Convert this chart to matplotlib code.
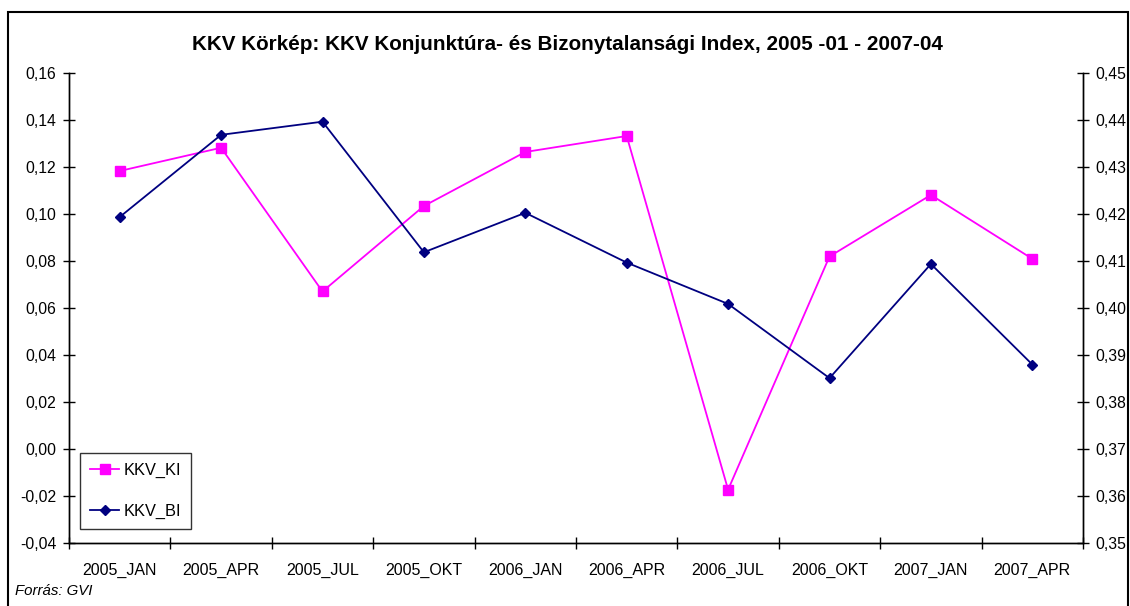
import matplotlib
matplotlib.use("Agg")
import matplotlib.pyplot as plt
from matplotlib.ticker import FuncFormatter, FixedLocator, MultipleLocator
from matplotlib.patches import Rectangle

categories = ["2005_JAN", "2005_APR", "2005_JUL", "2005_OKT", "2006_JAN",
              "2006_APR", "2006_JUL", "2006_OKT", "2007_JAN", "2007_APR"]
kkv_ki = [0.1184, 0.1283, 0.0671, 0.1035, 0.1265, 0.1333, -0.0173, 0.0820, 0.1082, 0.0810]
kkv_bi = [0.4194, 0.4369, 0.4397, 0.4119, 0.4203, 0.4097, 0.4009, 0.3851, 0.4094, 0.3880]

title = "KKV Körkép: KKV Konjunktúra- és Bizonytalansági Index, 2005 -01 - 2007-04"

plt.rcParams['font.family'] = ['Liberation Sans', 'DejaVu Sans']

W, H = 1130, 606
fig = plt.figure(figsize=(W / 100, H / 100), dpi=100)

def fx(px):
    return px / W

def fy(py):
    return 1 - py / H

left, right, top, bottom = 69, 1083, 73.3, 543
ax = fig.add_axes([fx(left), fy(bottom), fx(right - left), fy(top) - fy(bottom)])
ax2 = ax.twinx()

x = list(range(len(categories)))
l1, = ax.plot(x, kkv_ki, color='#FF00FF', marker='s', markersize=6.5, linewidth=1.3,
              label='KKV_KI', clip_on=False)
l2, = ax2.plot(x, kkv_bi, color='#000080', marker='D', markersize=5.5, linewidth=1.3,
               label='KKV_BI', clip_on=False)

ax.set_xlim(-0.5, len(categories) - 0.5)
ax.set_ylim(-0.04, 0.16)
ax2.set_ylim(0.35, 0.45)
ax.yaxis.set_major_locator(MultipleLocator(0.02))
ax2.yaxis.set_major_locator(MultipleLocator(0.01))
fmt = FuncFormatter(lambda v, p: f"{v:.2f}".replace('.', ',').replace('-0,00', '0,00'))
ax.yaxis.set_major_formatter(fmt)
ax2.yaxis.set_major_formatter(fmt)

ax.set_xticks(x)
ax.set_xticklabels(categories)
ax.xaxis.set_minor_locator(FixedLocator([i - 0.5 for i in range(len(categories) + 1)]))
ax.tick_params(axis='x', which='major', length=0, pad=14, labelsize=11.5)
ax.tick_params(axis='x', which='minor', length=8, direction='inout', width=1)
ax.tick_params(axis='y', which='major', length=8, direction='inout', width=1, labelsize=11.3, pad=5)
ax2.tick_params(axis='y', which='major', length=8, direction='inout', width=1, labelsize=11.3, pad=5)

for a in (ax, ax2):
    a.spines['top'].set_visible(False)
    for s in a.spines.values():
        s.set_linewidth(1.0)
        s.set_color('black')

fig.text(fx(567), fy(44), title, ha='center', va='center', fontsize=14.9, fontweight='bold')
fig.text(fx(15), fy(591), "Forrás: GVI", ha='left', va='center', fontsize=10.8, style='italic')

leg = ax.legend(handles=[l1, l2], loc='lower left',
                bbox_to_anchor=((80 - left) / (right - left), (543 - 529) / (543 - 73.3)),
                frameon=True, fancybox=False, edgecolor='black', fontsize=11.8,
                handlelength=1.8, labelspacing=1.6, borderpad=0.6, handletextpad=0.25,
                borderaxespad=0)
leg.get_frame().set_linewidth(1.0)

fig.patches.append(Rectangle((fx(8), fy(640)), fx(1120), fy(12) - fy(640),
                             transform=fig.transFigure, fill=False, edgecolor='black',
                             linewidth=1.5))

fig.savefig("out.png", dpi=100)
